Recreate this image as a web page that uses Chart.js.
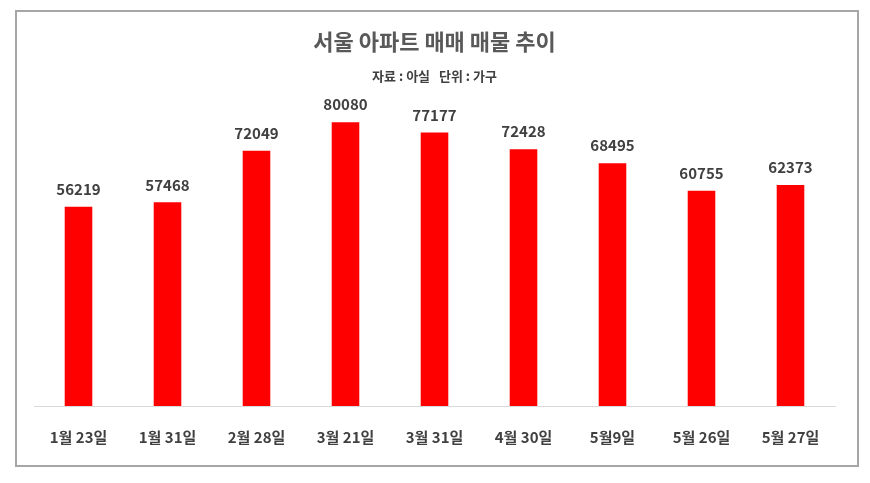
<!DOCTYPE html>
<html>
<head>
<meta charset="utf-8">
<script src="https://cdn.jsdelivr.net/npm/chart.js@4"></script>
<style>
  body { margin: 0; background: #fff; }
  #box { position: absolute; left: 15px; top: 10px; width: 840px; height: 453px; border: 2px solid #a6a6a6; }
</style>
</head>
<body>
<div id="box"><canvas id="c"></canvas></div>
<script>
// 데이터
const categories = ["1월 23일", "1월 31일", "2월 28일", "3월 21일", "3월 31일", "4월 30일", "5월9일", "5월 26일", "5월 27일"];
const listings = [56219, 57468, 72049, 80080, 77177, 72428, 68495, 60755, 62373];

const FONT = "'Noto Sans CJK KR', 'Noto Sans', sans-serif";

// 막대 위 값 표시
const valueLabels = {
    id: "valueLabels",
    afterDatasetsDraw(chart) {
        const ctx = chart.ctx;
        const meta = chart.getDatasetMeta(0);
        ctx.save();
        ctx.font = "bold 15px " + FONT;
        ctx.fillStyle = "#404040";
        ctx.textAlign = "center";
        ctx.textBaseline = "bottom";
        meta.data.forEach((bar, i) => {
            ctx.fillText(listings[i], bar.x, bar.y - 10);
        });
        ctx.restore();
    }
};

new Chart(document.getElementById("c"), {
    type: "bar",
    data: {
        labels: categories,
        datasets: [{
            data: listings,
            backgroundColor: "#ff0000",
            barPercentage: 0.31,
            categoryPercentage: 1
        }]
    },
    options: {
        responsive: true,
        maintainAspectRatio: false,
        animation: false,
        layout: { padding: { left: 17, right: 22, bottom: 5, top: 0 } },
        plugins: {
            legend: { display: false },
            tooltip: { enabled: false },
            title: {
                display: true,
                text: "서울 아파트 매매 매물 추이",
                color: "#595959",
                font: { family: FONT, size: 22, weight: "bold" },
                padding: { top: 16, bottom: 14 }
            },
            subtitle: {
                display: true,
                text: "자료 : 아실   단위 : 가구",
                color: "#404040",
                font: { family: FONT, size: 13, weight: "bold" },
                padding: { bottom: 3 }
            }
        },
        scales: {
            x: {
                grid: { display: false },
                border: { display: true, color: "#d9d9d9" },
                ticks: { color: "#404040", padding: 14, font: { family: FONT, size: 15, weight: "bold" } }
            },
            y: {
                display: false,
                min: 0,
                max: 90000
            }
        }
    },
    plugins: [valueLabels]
});
</script>
</body>
</html>
